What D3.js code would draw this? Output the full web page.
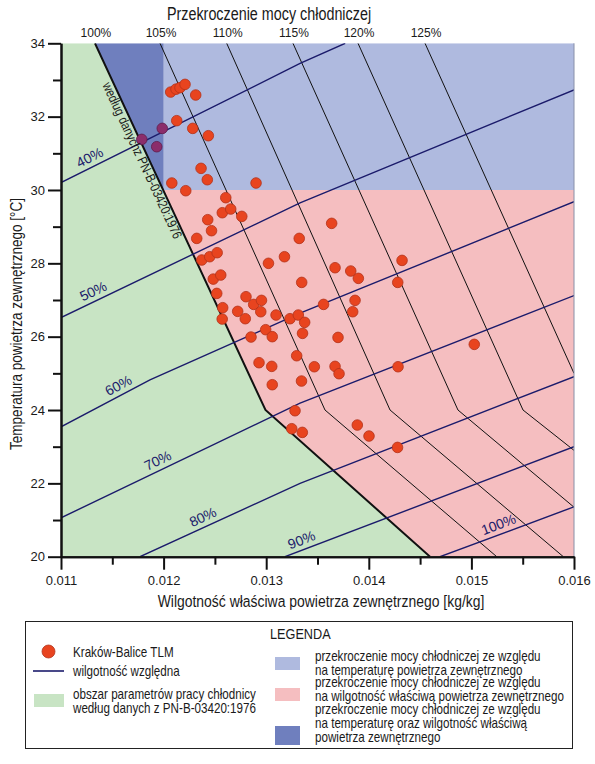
<!DOCTYPE html>
<html lang="pl">
<head>
<meta charset="utf-8">
<title>Przekroczenie mocy chłodniczej</title>
<script src="https://d3js.org/d3.v7.min.js"></script>
<style>
  body { margin: 0; background: #fff; }
  svg text { font-family: "Liberation Sans", Arial, sans-serif; fill: #1a1a1a; }
</style>
</head>
<body>
<svg width="595" height="764"></svg>
<script>
// ---- data ----
const xTicks = [0.011, 0.012, 0.013, 0.014, 0.015, 0.016];
const xMinor = [0.0115, 0.0125, 0.0135, 0.0145, 0.0155];
const yTicks = [20, 22, 24, 26, 28, 30, 32, 34];
const yMinor = [21, 23, 25, 27, 29, 31, 33];

// relative humidity lines [specific humidity, temperature]
const rhLabels = ["40%", "50%", "60%", "70%", "80%", "90%", "100%"];
const rhCurves = [
  [[0.011, 30.2], [0.01333, 33.45], [0.01377, 34]],
  [[0.011, 26.52], [0.01333, 29.65], [0.016, 32.73]],
  [[0.011, 23.54], [0.011867, 24.82], [0.01333, 26.64], [0.016, 29.68]],
  [[0.011, 21.06], [0.01333, 24.19], [0.016, 27.12]],
  [[0.01177, 20], [0.01333, 22.0], [0.016, 24.91]],
  [[0.013183, 20], [0.016, 23.0]],
  [[0.014694, 20], [0.016, 21.36]]
];
const rhLabelAt = [0.011322, 0.011356, 0.011604, 0.011984, 0.012423, 0.013378, 0.015298];

// cooling power overshoot lines (100% = PN-B-03420 boundary)
const overLabels = ["100%", "105%", "110%", "115%", "120%", "125%"];
const overCurves = [
  [[0.011331, 34], [0.012993, 24], [0.014597, 20]],
  [[0.011965, 34], [0.013573, 24], [0.015247, 20]],
  [[0.012615, 34], [0.014207, 24], [0.015896, 20]],
  [[0.013261, 34], [0.014869, 24], [0.016, 21.35]],
  [[0.013895, 34], [0.015503, 24], [0.016, 22.9]],
  [[0.014548, 34], [0.016, 25.0]]
];

// regions
const greenArea = [[0.011, 20], [0.011, 34], [0.011331, 34], [0.012993, 24], [0.014597, 20]];
const tempArea = [[0.012, 30], [0.012, 34], [0.016, 34], [0.016, 30]];
const humidArea = [[0.011996, 30], [0.016, 30], [0.016, 20], [0.014597, 20], [0.012993, 24]];
const bothArea = [[0.011331, 34], [0.012, 34], [0.012, 29.97]];

// Kraków-Balice TLM observations [specific humidity, temperature]
const krakow = [
  [0.012069, 32.67], [0.012121, 32.75], [0.012160, 32.79], [0.012209, 32.88], [0.012313, 32.59],
  [0.012128, 31.89], [0.011987, 31.68], [0.011787, 31.38], [0.011933, 31.18], [0.012284, 31.68],
  [0.012436, 31.48], [0.012365, 30.59], [0.012426, 30.28], [0.012080, 30.19], [0.012216, 29.98],
  [0.012901, 30.19], [0.012606, 29.79], [0.012572, 29.38], [0.012654, 29.48], [0.012762, 29.28],
  [0.012430, 29.19], [0.012467, 28.89], [0.012323, 28.68], [0.012372, 28.09], [0.012449, 28.18],
  [0.012522, 28.29], [0.012484, 27.57], [0.012557, 27.68], [0.012518, 27.18], [0.012576, 26.79],
  [0.012571, 26.48], [0.012803, 27.09], [0.012878, 26.88], [0.012954, 26.99], [0.012947, 26.68],
  [0.012722, 26.69], [0.012796, 26.49], [0.013096, 26.59], [0.013022, 28.00], [0.013178, 28.18],
  [0.013322, 28.68], [0.013346, 27.48], [0.013232, 26.49], [0.013313, 26.59], [0.013375, 26.39],
  [0.013354, 26.09], [0.013559, 26.88], [0.012995, 26.19], [0.012852, 25.99], [0.013059, 26.00],
  [0.013638, 29.09], [0.013671, 27.88], [0.013824, 27.79], [0.013898, 27.59], [0.014324, 28.08],
  [0.014282, 27.48], [0.013866, 26.99], [0.013843, 26.68], [0.013700, 25.98], [0.012930, 25.29],
  [0.013054, 25.19], [0.013297, 25.48], [0.013469, 25.18], [0.013671, 25.19], [0.013710, 24.99],
  [0.014285, 25.18], [0.015028, 25.79], [0.013059, 24.69], [0.013344, 24.79], [0.013281, 23.98],
  [0.013249, 23.49], [0.013352, 23.39], [0.013888, 23.59], [0.014002, 23.29], [0.014280, 22.98]
];

const legendLeft = [
  ["Kraków-Balice TLM"],
  ["wilgotność względna"],
  ["obszar parametrów pracy chłodnicy", "według danych z PN-B-03420:1976"]
];
const legendRight = [
  ["przekroczenie mocy chłodniczej ze względu", "na temperaturę powietrza zewnętrznego"],
  ["przekroczenie mocy chłodniczej ze względu", "na wilgotność właściwą powietrza zewnętrznego"],
  ["przekroczenie mocy chłodniczej ze względu", "na temperaturę oraz wilgotność właściwą", "powietrza zewnętrznego"]
];

// ---- drawing ----
const GREEN = "#c8e4c4", LBLUE = "#afbadf", PINK = "#f5bec0", DBLUE = "#6f7fbe";
const NAVY = "#1b1b6b", DOT = "#e8441f", DOT_DARK = "#8b2d6b";
const SQUEEZE = 0.82; // narrow lettering, like Arial Narrow

const svg = d3.select("svg");
const x = d3.scaleLinear().domain([0.011, 0.016]).range([61, 574]);
const y = d3.scaleLinear().domain([20, 34]).range([556.7, 43.3]);
const line = d3.line().x(d => x(d[0])).y(d => y(d[1]));

// narrow text: plain Liberation Sans squeezed horizontally
function narrow(parent, tx, ty, size, str, anchor = "start", rot = 0, dy = 0) {
  return parent.append("text")
    .attr("transform", `translate(${tx},${ty}) rotate(${rot}) scale(${SQUEEZE},1)`)
    .attr("y", dy)
    .attr("text-anchor", anchor)
    .style("font-size", size + "px")
    .text(str);
}

svg.append("clipPath").attr("id", "plotclip")
  .append("rect").attr("x", x(0.011)).attr("y", y(34))
  .attr("width", x(0.016) - x(0.011)).attr("height", y(20) - y(34));

const plot = svg.append("g").attr("clip-path", "url(#plotclip)");

plot.selectAll("path.area")
  .data([[greenArea, GREEN], [tempArea, LBLUE], [humidArea, PINK], [bothArea, DBLUE]])
  .join("path")
  .attr("class", "area")
  .attr("d", d => line(d[0]) + "Z")
  .attr("fill", d => d[1]);

plot.selectAll("path.over")
  .data(overCurves)
  .join("path")
  .attr("class", "over")
  .attr("d", line)
  .attr("fill", "none")
  .attr("stroke", "#111")
  .attr("stroke-width", (d, i) => i === 0 ? 2 : 1);

plot.selectAll("path.rh")
  .data(rhCurves)
  .join("path")
  .attr("class", "rh")
  .attr("d", line)
  .attr("fill", "none")
  .attr("stroke", NAVY)
  .attr("stroke-width", 1.4);

// right frame
svg.append("line")
  .attr("x1", x(0.016)).attr("x2", x(0.016))
  .attr("y1", y(34)).attr("y2", y(20))
  .attr("stroke", "#8890a8").attr("stroke-width", 1);

// points
const inDark = d => d[0] < 0.012 && d[1] > 30;
plot.selectAll("circle")
  .data(krakow)
  .join("circle")
  .attr("cx", d => x(d[0]))
  .attr("cy", d => y(d[1]))
  .attr("r", 5.3)
  .attr("fill", d => inDark(d) ? DOT_DARK : DOT)
  .attr("stroke", d => inDark(d) ? "#5e1c4a" : "#b3321a")
  .attr("stroke-width", 0.8);

// labels on relative humidity lines
function placeOn(curve, xv) {
  let k = 0;
  while (k < curve.length - 2 && xv > curve[k + 1][0]) k++;
  const a = curve[k], b = curve[k + 1];
  const t = (xv - a[0]) / (b[0] - a[0]);
  const tv = a[1] + t * (b[1] - a[1]);
  const ang = Math.atan2(y(b[1]) - y(a[1]), x(b[0]) - x(a[0])) * 180 / Math.PI;
  return { px: x(xv), py: y(tv), ang };
}

svg.append("g").selectAll("text")
  .data(rhLabels)
  .join("text")
  .attr("transform", (d, i) => {
    const p = placeOn(rhCurves[i], rhLabelAt[i]);
    return `translate(${p.px},${p.py}) rotate(${p.ang})`;
  })
  .attr("y", -5)
  .attr("text-anchor", "middle")
  .style("font-size", "14px")
  .style("fill", NAVY)
  .text(d => d);

// boundary label
{
  const b = overCurves[0];
  const tv = 30.88;
  const xv = b[0][0] + (tv - b[0][1]) / (b[1][1] - b[0][1]) * (b[1][0] - b[0][0]);
  const ang = Math.atan2(y(b[1][1]) - y(b[0][1]), x(b[1][0]) - x(b[0][0])) * 180 / Math.PI;
  narrow(svg, x(xv), y(tv), 13.5, "według danychz PN-B-03420:1976", "middle", ang, 11);
}

// top overshoot labels
svg.append("g").selectAll("text")
  .data(overLabels)
  .join("text")
  .attr("x", (d, i) => x(overCurves[i][0][0]) + 1)
  .attr("y", 36.5)
  .attr("text-anchor", "middle")
  .style("font-size", "12px")
  .text(d => d);

narrow(svg, 269, 20, 17.5, "Przekroczenie mocy chłodniczej", "middle");

// axes
function styleAxis(g) {
  g.select(".domain").attr("stroke", "#111").attr("stroke-width", 2);
  g.selectAll(".tick line").attr("stroke", "#111").attr("stroke-width", 2);
  g.selectAll(".tick text").style("font-size", "13px").style("fill", "#1a1a1a")
    .style("font-family", "'Liberation Sans', Arial, sans-serif");
}

svg.append("g")
  .attr("transform", `translate(0,${y(20)})`)
  .call(d3.axisBottom(x).tickValues(xTicks).tickSize(13).tickSizeOuter(0)
    .tickPadding(6).tickFormat(d3.format(".3f")))
  .call(styleAxis);
svg.append("g")
  .attr("transform", `translate(0,${y(20)})`)
  .call(d3.axisBottom(x).tickValues(xMinor).tickSize(8).tickSizeOuter(0).tickFormat(""))
  .call(styleAxis);

svg.append("g")
  .attr("transform", `translate(${x(0.011)},0)`)
  .call(d3.axisLeft(y).tickValues(yTicks).tickSize(13).tickSizeOuter(0)
    .tickPadding(3).tickFormat(d3.format("d")))
  .call(styleAxis);
svg.append("g")
  .attr("transform", `translate(${x(0.011)},0)`)
  .call(d3.axisLeft(y).tickValues(yMinor).tickSize(8).tickSizeOuter(0).tickFormat(""))
  .call(styleAxis);

narrow(svg, 321, 607, 17, "Wilgotność właściwa powietrza zewnętrznego [kg/kg]", "middle");
narrow(svg, 22, 324, 16.5, "Temperatura powietrza zewnętrznego [°C]", "middle", -90);

// legend
const lg = svg.append("g");
lg.append("rect")
  .attr("x", 25.5).attr("y", 621.5).attr("width", 547).attr("height", 127)
  .attr("fill", "#fff").attr("stroke", "#222").attr("stroke-width", 1);
narrow(lg, 270, 639, 15.5, "LEGENDA");

lg.append("circle").attr("cx", 48.5).attr("cy", 651.5).attr("r", 6.5)
  .attr("fill", DOT).attr("stroke", "#b3321a").attr("stroke-width", 0.8);
lg.append("line").attr("x1", 33).attr("x2", 64).attr("y1", 671).attr("y2", 671)
  .attr("stroke", NAVY).attr("stroke-width", 1.6);
lg.append("rect").attr("x", 34).attr("y", 694).attr("width", 30).attr("height", 13).attr("fill", GREEN);

const leftBase = [656.7, 676, 699.3];
legendLeft.forEach((lines, i) => {
  lines.forEach((t, j) => narrow(lg, 73, leftBase[i] + j * 13.4, 14.2, t));
});

const rightSw = [[LBLUE, 657, 13], [PINK, 688, 13], [DBLUE, 726, 19]];
const rightBase = [660.5, 687, 714];
legendRight.forEach((lines, i) => {
  lg.append("rect").attr("x", 275).attr("y", rightSw[i][1])
    .attr("width", 25).attr("height", rightSw[i][2]).attr("fill", rightSw[i][0]);
  lines.forEach((t, j) => narrow(lg, 315, rightBase[i] + j * 14, 14.2, t));
});
</script>
</body>
</html>
